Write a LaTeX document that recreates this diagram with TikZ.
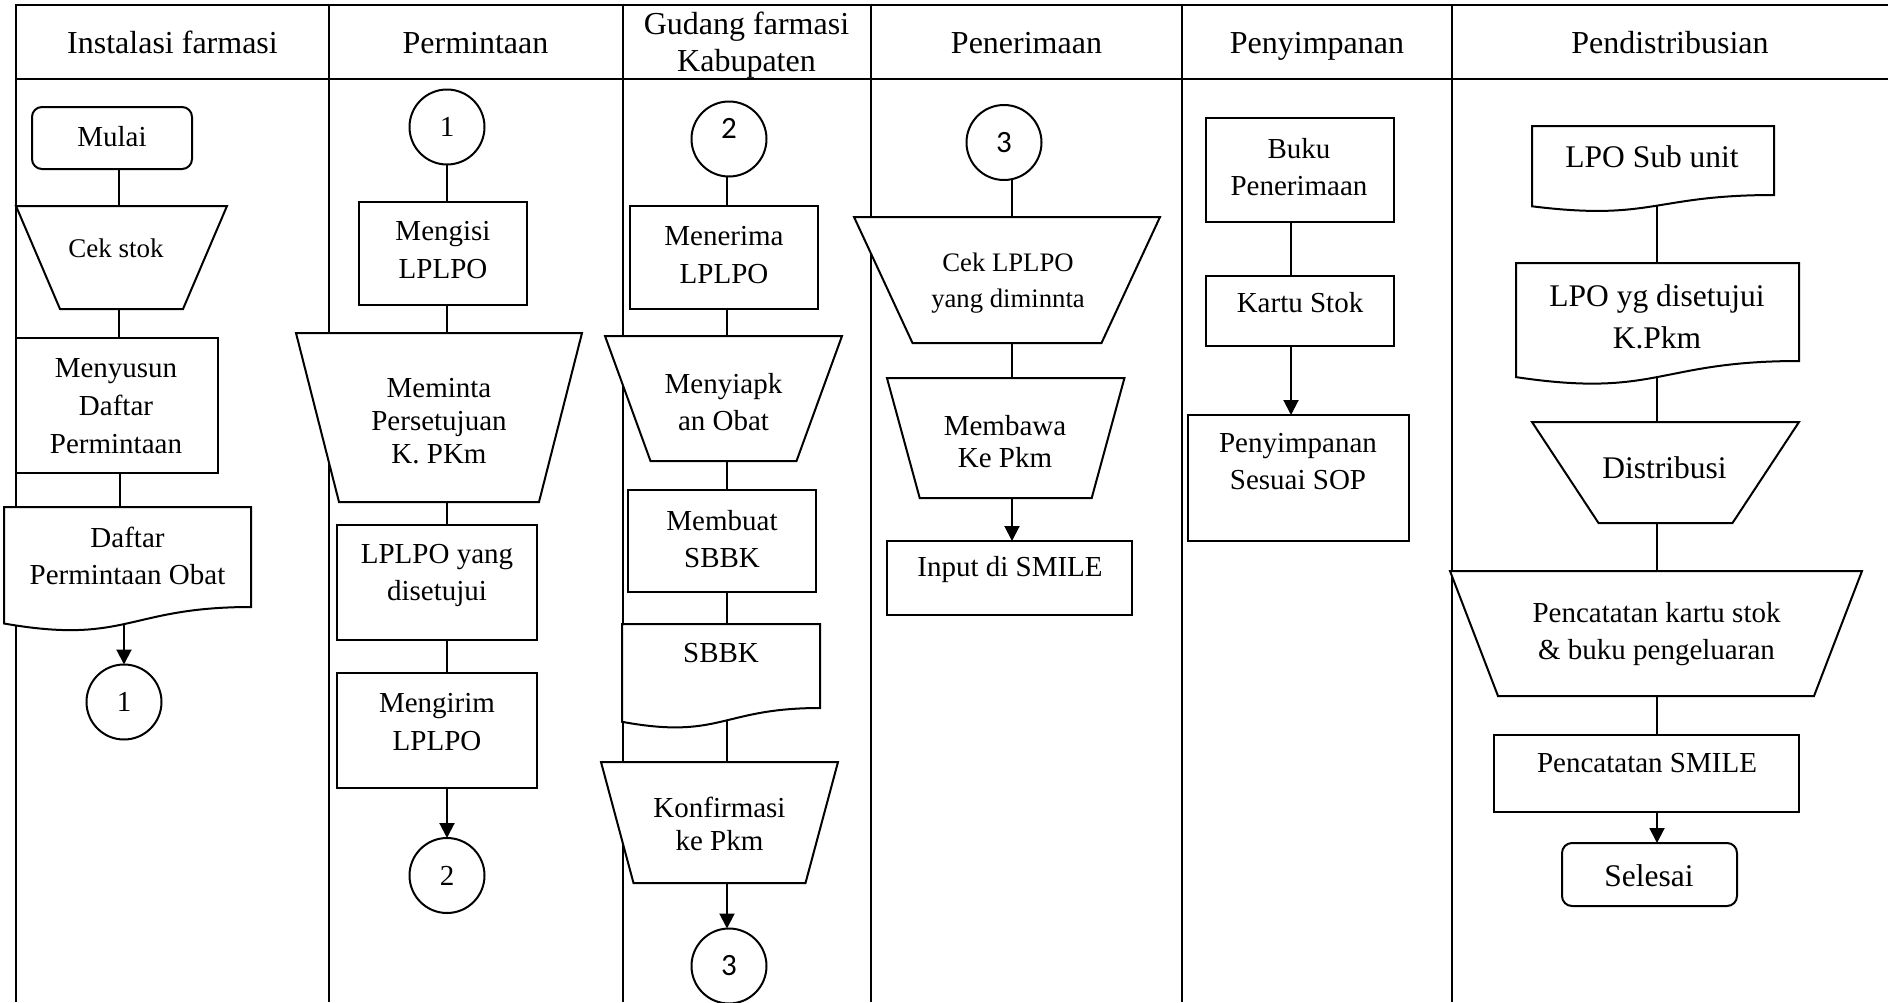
\documentclass[tikz,border=0pt]{standalone}
\usepackage{fontspec}
\setmainfont{Liberation Serif}
\newfontfamily\calib{Carlito}
\usetikzlibrary{arrows.meta,backgrounds}
\begin{document}
\begin{tikzpicture}[x=1pt,y=-1pt,
  frame/.style={line width=2pt},
  con/.style={line width=2pt},
  arr/.style={line width=2pt,-{Triangle[length=15pt,width=15pt]}},
  box/.style={draw,line width=2pt,fill=white,rectangle,inner sep=0pt,outer sep=0pt},
  rbox/.style={box,rounded corners=10pt},
  shp/.style={rectangle,inner sep=0pt,outer sep=0pt},
  outl/.style={draw,line width=2pt,fill=white,line join=miter},
  conn/.style={draw,line width=2pt,fill=white,circle,inner sep=0pt,outer sep=0pt,minimum size=75pt,font=\fontsize{29}{34}\selectfont},
  connsans/.style={conn,font=\calib\fontsize{31}{34}\selectfont},
  txt/.style={inner sep=0pt,align=center,font=\fontsize{29}{37}\selectfont},
  hdr/.style={inner sep=0pt,align=center,font=\fontsize{32}{36.5}\selectfont}]
\useasboundingbox (0,0) rectangle (1888,1002);

% ---------- connector x positions ----------
\coordinate (xa) at (119,0);
\coordinate (xb) at (120,0);
\coordinate (xc) at (124,0);
\coordinate (xp) at (447,0);
\coordinate (xg) at (727,0);
\coordinate (xr) at (1012,0);
\coordinate (xs) at (1291,0);
\coordinate (xd) at (1657,0);

% ---------- Column 1: Instalasi farmasi ----------
\node[rbox,minimum width=160pt,minimum height=62pt] (mulai) at (112,138) {};
\node[shp,minimum width=211pt,minimum height=103pt] (cekstok) at (121.5,257.5) {};
\node[box,minimum width=202pt,minimum height=135pt] (menyusun) at (117,405.5) {};
\node[shp,minimum width=247pt,minimum height=100pt] (daftar) at (127.5,557) {};
\node[conn] (c1b) at (124,702) {1};

% ---------- Column 2: Permintaan ----------
\node[conn] (c1) at (447,127) {1};
\node[box,minimum width=168pt,minimum height=103pt] (mengisi) at (443,253.3) {};
\node[shp,minimum width=286pt,minimum height=169pt] (meminta) at (439,417.5) {};
\node[box,minimum width=200pt,minimum height=115pt] (lplpoyang) at (437,582.5) {};
\node[box,minimum width=200pt,minimum height=115pt] (mengirim) at (437,730.5) {};
\node[conn] (c2) at (447,875.5) {2};

% ---------- Column 3: Gudang farmasi Kabupaten ----------
\node[connsans] (c2g) at (729,139) {\raisebox{1pt}[0pt][0pt]{2}};
\node[box,minimum width=188pt,minimum height=103pt] (menerima) at (724,257.5) {};
\node[shp,minimum width=237pt,minimum height=125pt] (menyiapk) at (723.5,398.5) {};
\node[box,minimum width=188pt,minimum height=102pt] (membuat) at (722,541) {};
\node[shp,minimum width=198pt,minimum height=84pt] (sbbk) at (721,666) {};
\node[shp,minimum width=237pt,minimum height=121pt] (konf) at (719.5,822.5) {};
\node[connsans] (c3g) at (729,966) {3};

% ---------- Column 4: Penerimaan ----------
\node[connsans] (c3p) at (1004,142.5) {3};
\node[shp,minimum width=306pt,minimum height=126pt] (cekl) at (1007,280) {};
\node[shp,minimum width=237.5pt,minimum height=120pt] (membawa) at (1005.7,438) {};
\node[box,minimum width=245pt,minimum height=74pt] (input) at (1009.5,578) {};

% ---------- Column 5: Penyimpanan ----------
\node[box,minimum width=188pt,minimum height=104pt] (buku) at (1300,170) {};
\node[box,minimum width=188pt,minimum height=70pt] (kartu) at (1300,311) {};
\node[box,minimum width=221pt,minimum height=126pt] (penyimp) at (1298.5,478) {};

% ---------- Column 6: Pendistribusian ----------
\node[shp,minimum width=242pt,minimum height=69pt] (lposub) at (1653,160.5) {};
\node[shp,minimum width=283pt,minimum height=98pt] (lpoyg) at (1657.5,312) {};
\node[shp,minimum width=267pt,minimum height=101pt] (distr) at (1665.5,472.5) {};
\node[shp,minimum width=412pt,minimum height=125pt] (penck) at (1656,633.5) {};
\node[box,minimum width=305pt,minimum height=77pt] (pencs) at (1646.5,773.5) {};
\node[rbox,minimum width=175pt,minimum height=63pt] (selesai) at (1649.5,874.5) {};

% ---------- background: frame and connectors ----------
\begin{pgfonlayer}{background}
  \fill[white] (0,0) rectangle (1888,1002);
  \draw[frame] (16,1002) -- (16,5) -- (1888,5);
  \draw[frame] (16,79) -- (1888,79);
  \foreach \xx in {329,623,871,1182,1452} \draw[frame] (\xx,5) -- (\xx,1002);
  % column 1
  \draw[con] (mulai.south -| xa) -- (cekstok.north -| xa);
  \draw[con] (cekstok.south -| xa) -- (menyusun.north -| xa);
  \draw[con] (menyusun.south -| xb) -- (daftar.north -| xb);
  \draw[arr] (daftar.south -| xc) -- (c1b.north -| xc);
  % column 2
  \draw[con] (c1.south -| xp) -- (mengisi.north -| xp);
  \draw[con] (mengisi.south -| xp) -- (meminta.north -| xp);
  \draw[con] (meminta.south -| xp) -- (lplpoyang.north -| xp);
  \draw[con] (lplpoyang.south -| xp) -- (mengirim.north -| xp);
  \draw[arr] (mengirim.south -| xp) -- (c2.north -| xp);
  % column 3
  \draw[con] (c2g.south -| xg) -- (menerima.north -| xg);
  \draw[con] (menerima.south -| xg) -- (menyiapk.north -| xg);
  \draw[con] (menyiapk.south -| xg) -- (membuat.north -| xg);
  \draw[con] (membuat.south -| xg) -- (sbbk.north -| xg);
  \draw[con] (sbbk.south -| xg) -- (konf.north -| xg);
  \draw[arr] (konf.south -| xg) -- (c3g.north -| xg);
  % column 4
  \draw[con] (c3p.south -| xr) -- (cekl.north -| xr);
  \draw[con] (cekl.south -| xr) -- (membawa.north -| xr);
  \draw[arr] (membawa.south -| xr) -- (input.north -| xr);
  % column 5
  \draw[con] (buku.south -| xs) -- (kartu.north -| xs);
  \draw[arr] (kartu.south -| xs) -- (penyimp.north -| xs);
  % column 6
  \draw[con] (lposub.south -| xd) -- (lpoyg.north -| xd);
  \draw[con] (lpoyg.south -| xd) -- (distr.north -| xd);
  \draw[con] (distr.south -| xd) -- (penck.north -| xd);
  \draw[con] (penck.south -| xd) -- (pencs.north -| xd);
  \draw[arr] (pencs.south -| xd) -- (selesai.north -| xd);
\end{pgfonlayer}

% ---------- trapezoid outlines (manual operation) ----------
\path[outl] (cekstok.north west) -- (cekstok.north east) -- ([xshift=-44pt]cekstok.south east) -- ([xshift=44pt]cekstok.south west) -- cycle;
\path[outl] (meminta.north west) -- (meminta.north east) -- ([xshift=-43pt]meminta.south east) -- ([xshift=43pt]meminta.south west) -- cycle;
\path[outl] (menyiapk.north west) -- (menyiapk.north east) -- ([xshift=-45.5pt]menyiapk.south east) -- ([xshift=45.5pt]menyiapk.south west) -- cycle;
\path[outl] (konf.north west) -- (konf.north east) -- ([xshift=-32.5pt]konf.south east) -- ([xshift=32.5pt]konf.south west) -- cycle;
\path[outl] (cekl.north west) -- (cekl.north east) -- ([xshift=-58.5pt]cekl.south east) -- ([xshift=58.5pt]cekl.south west) -- cycle;
\path[outl] (membawa.north west) -- (membawa.north east) -- ([xshift=-32.75pt]membawa.south east) -- ([xshift=32.75pt]membawa.south west) -- cycle;
\path[outl] (distr.north west) -- (distr.north east) -- ([xshift=-66.5pt]distr.south east) -- ([xshift=66.5pt]distr.south west) -- cycle;
\path[outl] (penck.north west) -- (penck.north east) -- ([xshift=-48pt]penck.south east) -- ([xshift=48pt]penck.south west) -- cycle;

% ---------- document outlines ----------
\path[outl] (daftar.north west) -- (daftar.north east) -- (daftar.south east) .. controls (daftar.south) and (127.5,645.1) .. (4,623.5) -- cycle;
\path[outl] (sbbk.north west) -- (sbbk.north east) -- (sbbk.south east) .. controls (sbbk.south) and (721,740) .. (622,721.8) -- cycle;
\path[outl] (lposub.north west) -- (lposub.north east) -- (lposub.south east) .. controls (lposub.south) and (1653,221.3) .. (1532,206.3) -- cycle;
\path[outl] (lpoyg.north west) -- (lpoyg.north east) -- (lpoyg.south east) .. controls (lpoyg.south) and (1657.5,398.3) .. (1516,377.1) -- cycle;

% ---------- headers ----------
\node[hdr,anchor=base] (h1) at (172.5,53.5) {Instalasi farmasi};
\node[hdr,anchor=base] (h2) at (475.5,53.5) {Permintaan};
\node[hdr] (h3) at (746.5,45) {Gudang farmasi\\Kabupaten};
\node[hdr,anchor=base] (h4) at (1026.5,53.5) {Penerimaan};
\node[hdr,anchor=base] (h5) at (1317,53.5) {Penyimpanan};
\node[hdr,anchor=base] (h6) at (1670,53.5) {Pendistribusian};

% ---------- texts ----------
\node[txt] (tmulai) at (112,137) {Mulai};
\node[txt,font=\fontsize{27}{34}\selectfont] (tcek) at (116,248) {Cek stok};
\node[txt,font=\fontsize{29}{38}\selectfont] (tmenyusun) at (116,406) {Menyusun\\Daftar\\Permintaan};
\node[txt,font=\fontsize{29}{36.7}\selectfont] (tdaftar) at (127.5,556) {Daftar\\Permintaan Obat};

\node[txt,font=\fontsize{29}{38}\selectfont] (tmengisi) at (443,250) {Mengisi\\LPLPO};
\node[txt,font=\fontsize{29}{33}\selectfont] (tmeminta) at (439,421) {Meminta\\Persetujuan\\K. PKm};
\node[txt] (tlplpoyang) at (437,575) {LPLPO yang\\disetujui};
\node[txt,font=\fontsize{29}{38}\selectfont] (tmengirim) at (437,722) {Mengirim\\LPLPO};

\node[txt,font=\fontsize{29}{38}\selectfont] (tmenerima) at (724,255) {Menerima\\LPLPO};
\node[txt] (tmenyiapk) at (723.5,402) {Menyiapk\\an Obat};
\node[txt] (tmembuat) at (722,539) {Membuat\\SBBK};
\node[txt] (tsbbk) at (721,653) {SBBK};
\node[txt,font=\fontsize{29}{33}\selectfont] (tkonf) at (719.5,824) {Konfirmasi\\ke Pkm};

\node[txt,font=\fontsize{26.7}{36.7}\selectfont] (tcekl) at (1008,283) {Cek LPLPO\\yang diminnta};
\node[txt,font=\fontsize{29}{32}\selectfont] (tmembawa) at (1005,442) {Membawa\\Ke Pkm};
\node[txt] (tinput) at (1010,570) {Input di SMILE};

\node[txt] (tbuku) at (1299,167) {Buku\\Penerimaan};
\node[txt] (tkartu) at (1300,303) {Kartu Stok};
\node[txt] (tpenyimp) at (1298,462) {Penyimpanan\\Sesuai SOP};

\node[txt,font=\fontsize{31.5}{36}\selectfont] (tlposub) at (1652,157) {LPO Sub unit};
\node[txt,font=\fontsize{31.5}{41.7}\selectfont] (tlpoyg) at (1657,317) {LPO yg disetujui\\K.Pkm};
\node[txt,font=\fontsize{31.5}{36}\selectfont] (tdistr) at (1664.5,468) {Distribusi};
\node[txt,font=\fontsize{29}{36.7}\selectfont] (tpenck) at (1656.5,634) {Pencatatan kartu stok\\\& buku pengeluaran};
\node[txt] (tpencs) at (1647,763) {Pencatatan SMILE};
\node[txt,font=\fontsize{31.5}{36}\selectfont] (tselesai) at (1649,876) {Selesai};
\end{tikzpicture}
\end{document}
